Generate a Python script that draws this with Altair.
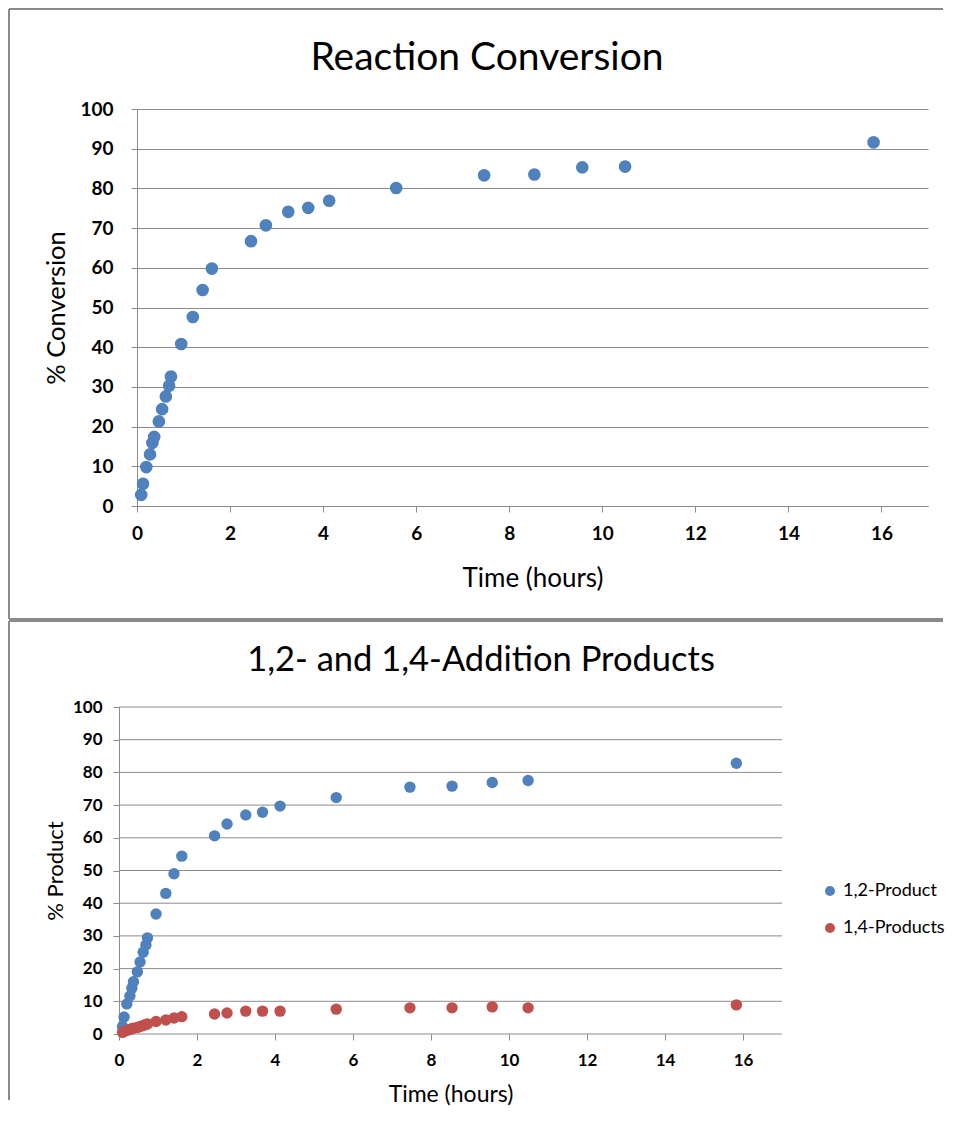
import altair as alt
import pandas as pd

# ---------------- data ----------------
time_h = [0.09, 0.13, 0.20, 0.28, 0.33, 0.37, 0.47, 0.54, 0.62, 0.69, 0.73, 0.95,
          1.20, 1.41, 1.61, 2.45, 2.77, 3.25, 3.68, 4.13, 5.57, 7.46, 8.54, 9.57,
          10.49, 15.83]
conversion = [2.8, 5.6, 9.8, 13.0, 15.9, 17.4, 21.3, 24.4, 27.6, 30.3, 32.6, 40.8,
              47.6, 54.4, 59.8, 66.7, 70.7, 74.1, 75.1, 76.9, 80.1, 83.3, 83.5, 85.3,
              85.5, 91.6]
product_12 = [2.3, 5.2, 9.2, 11.6, 14.0, 16.0, 19.0, 22.0, 25.0, 27.2, 29.4, 36.7,
              43.0, 49.0, 54.4, 60.6, 64.2, 67.0, 67.8, 69.7, 72.3, 75.5, 75.8, 76.9,
              77.5, 82.8]
product_14 = [0.5, 0.8, 1.1, 1.4, 1.6, 1.8, 2.0, 2.3, 2.6, 2.9, 3.1, 3.8,
              4.3, 4.9, 5.3, 6.1, 6.4, 7.0, 7.0, 7.0, 7.6, 8.0, 8.0, 8.3,
              8.0, 8.9]
series_names = ["1,2-Product", "1,4-Products"]
series_colors = ["#4F81BD", "#C0504D"]
x_ticks = [0, 2, 4, 6, 8, 10, 12, 14, 16]
y_ticks = [0, 10, 20, 30, 40, 50, 60, 70, 80, 90, 100]
top_title = "Reaction Conversion"
bottom_title = "1,2- and 1,4-Addition Products"

FONT = "Lato"
GRID = "#8c8c8c"
FRAME = "#8a8a8a"

top_df = pd.DataFrame({"time": time_h, "conversion": conversion})
bot_df = pd.concat([
    pd.DataFrame({"time": time_h, "value": product_12, "series": series_names[0]}),
    pd.DataFrame({"time": time_h, "value": product_14, "series": series_names[1]}),
], ignore_index=True)
grid_df = pd.DataFrame({"value": y_ticks})


def frame(left, top, right, bottom, draw_bottom=True):
    one = pd.DataFrame({"k": [0]})
    base = alt.Chart(one).mark_rule(color=FRAME, strokeWidth=2)
    layers = [
        base.encode(x=alt.value(left), x2=alt.value(right), y=alt.value(top)),
        base.encode(x=alt.value(left), y=alt.value(top), y2=alt.value(bottom)),
    ]
    if draw_bottom:
        layers.append(base.encode(x=alt.value(left), x2=alt.value(right), y=alt.value(bottom)))
    return layers


def title_mark(text, x, y, size):
    df = pd.DataFrame({"label": [text]})
    return alt.Chart(df).mark_text(font=FONT, fontSize=size, align="center",
                                   baseline="middle", color="#000000").encode(
        x=alt.value(x), y=alt.value(y), text="label:N")


def x_axis(label_size, title_size, label_pad, title_pad, domain=True):
    return alt.Axis(values=x_ticks, grid=False, domain=domain, domainColor=GRID,
                    tickColor=GRID, tickSize=6, labelFont=FONT, labelFontSize=label_size,
                    labelFontWeight="bold", labelColor="#000000", labelPadding=label_pad,
                    labelFlush=False, labelOverlap=False,
                    title="Time (hours)", titleFont=FONT, titleFontSize=title_size,
                    titleFontWeight="normal", titleColor="#000000", titlePadding=title_pad)


def y_axis(title, label_size, title_size, label_pad, title_pad, grid=True, offset=0):
    return alt.Axis(values=y_ticks, grid=grid, gridColor=GRID, domainColor=GRID,
                    tickColor=GRID, tickSize=6, labelFont=FONT, labelFontSize=label_size,
                    labelFontWeight="bold", labelColor="#000000", labelPadding=label_pad,
                    labelOverlap=False, offset=offset,
                    title=title, titleFont=FONT, titleFontSize=title_size,
                    titleFontWeight="normal", titleColor="#000000", titlePadding=title_pad)


RIGHT = 806  # right end of the frame lines, relative to the plot origin

# ---------------- top chart ----------------
TW, TH = 791, 397
top_points = alt.Chart(top_df).mark_circle(size=160, opacity=1, color=series_colors[0]).encode(
    x=alt.X("time:Q", scale=alt.Scale(domain=[0, 17], nice=False),
            axis=x_axis(19, 26, 12, 22)),
    y=alt.Y("conversion:Q", scale=alt.Scale(domain=[0, 100], nice=False),
            axis=y_axis("% Conversion", 19, 25.5, 18, 10)),
)
top = alt.layer(
    *frame(-128, -100, RIGHT, 510),
    top_points,
    title_mark(top_title, 350, -51, 39),
).properties(width=TW, height=TH)

# ---------------- bottom chart ----------------
# plot origin is shared with the top chart (x = 137 on the page); the bottom
# plot starts 18 px further left, so its x range starts at -18.
SHIFT = 18
BW, BH = 645, 327
bx = alt.X("time:Q", scale=alt.Scale(domain=[0, 17], nice=False, range=[-SHIFT, BW]),
           axis=x_axis(17, 23, 12, 15, domain=False))
by_axis = y_axis("% Product", 17, 22, 11, 5, grid=False, offset=SHIFT)
by_scale = alt.Scale(domain=[0, 100], nice=False)

bot_grid = alt.Chart(grid_df).mark_rule(color=GRID, strokeWidth=1).encode(
    y=alt.Y("value:Q", scale=by_scale, axis=by_axis),
    x=alt.value(-SHIFT), x2=alt.value(BW),
)
bot_points = alt.Chart(bot_df).mark_circle(size=130, opacity=1).encode(
    x=bx,
    y=alt.Y("value:Q", scale=by_scale, axis=by_axis),
    color=alt.Color("series:N",
                    scale=alt.Scale(domain=series_names, range=series_colors),
                    legend=alt.Legend(title=None, orient="none", legendX=684,
                                      legendY=175, padding=0, labelFont=FONT,
                                      labelFontSize=18, labelColor="#000000",
                                      symbolType="circle", symbolSize=100,
                                      symbolStrokeWidth=0, rowPadding=19, labelOffset=4)),
)
bottom = alt.layer(
    *frame(-128, -86, RIGHT, 393, draw_bottom=False),
    bot_grid,
    bot_points,
    title_mark(bottom_title, 481 - 137, -46, 34.5),
).properties(width=BW, height=BH)

chart = alt.vconcat(top, bottom, spacing=0).resolve_legend(
    color="independent"
).properties(padding=0, background="white").configure_view(stroke=None)

chart.save("out.html", embed_options={"renderer": "svg", "actions": False})
